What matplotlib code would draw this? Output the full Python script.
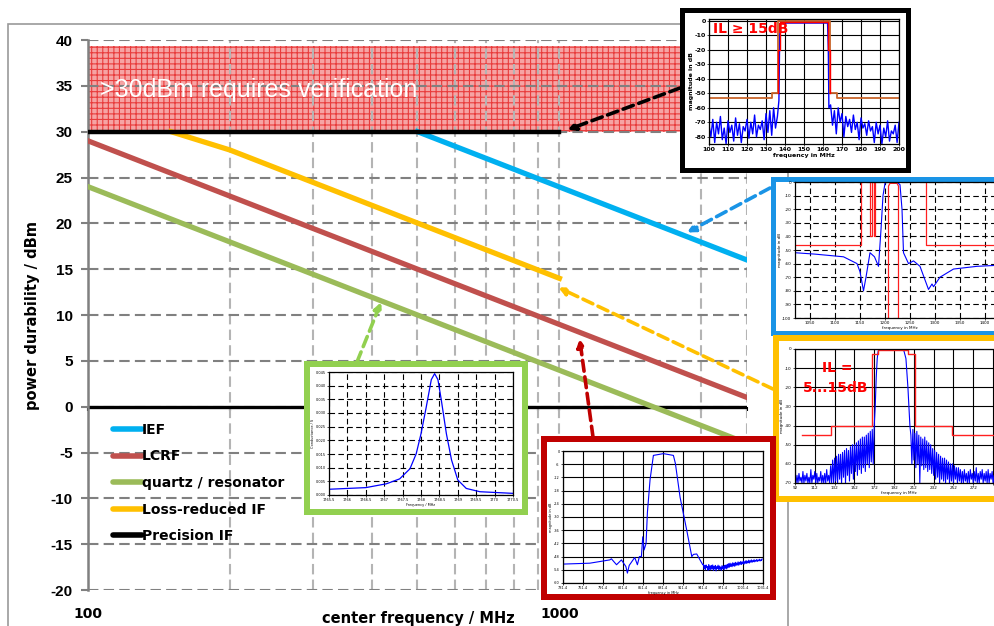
import numpy as np
import matplotlib
matplotlib.use("Agg")
import matplotlib.pyplot as plt
from matplotlib.lines import Line2D
from matplotlib.patches import Rectangle
from matplotlib.ticker import FixedLocator, NullFormatter

plt.rcParams["font.family"] = "DejaVu Sans"
plt.rcParams["hatch.linewidth"] = 0.8
plt.rcParams["axes.unicode_minus"] = False

W, H = 994, 626

# ---- main chart: power durability vs center frequency ----
ief_f = [500, 2500]
ief_db = [30, 16]
lcrf_f = [100, 2500]
lcrf_db = [29, 1]
quartz_f = [100, 2500]
quartz_db = [24, -4]
lrif_f = [150, 200, 1000]
lrif_db = [30, 28, 14]
pif_f = [100, 1000]
pif_db = [30, 30]

legend_labels = ["IEF", "LCRF", "quartz / resonator", "Loss-reduced IF", "Precision IF"]
legend_colors = ["#00B0F0", "#C0504D", "#9BBB59", "#FFC000", "#000000"]

y_ticks = list(range(-20, 41, 5))
x_major = [100, 1000]
x_minor = [200, 300, 400, 500, 600, 700, 800, 900, 2000, 2500]

# ---- inset 1: precision IF, 100..200 MHz ----
bk_lo = [-72, -80, -68, -84, -70, -78, -66, -82, -74, -85, -69, -77, -72, -83, -67, -79, -71, -84, -73, -76,
         -68, -81, -70, -78, -65, -80, -72, -75, -69, -82, -64, -77, -62, -79, -60, -74, -66]
bk_pass_f = [136.8, 137.2, 137.6, 162.4, 162.8, 163.1]
bk_pass_db = [-55, -10, -1.5, -1.5, -20, -60]
bk_hi = [-58, -72, -62, -78, -60, -70, -64, -80, -66, -73, -68, -77, -65, -75, -70, -82, -67, -74, -71, -79,
         -69, -76, -73, -84, -70, -78, -72, -85, -74, -80, -69, -83, -76, -78, -72, -84, -70]
bk_mask_f = [100, 132.9, 132.9, 136.4, 136.4, 163.7, 163.7, 167.4, 167.4, 200]
bk_mask_db = [-53, -53, -50, -50, 0, 0, -50, -50, -53, -53]
bk_red_f = [136.4, 136.4, 137.2, 137.2, 162.6, 162.6, 163.6, 163.6]
bk_red_db = [-50, -20, -20, -1, -1, -20, -20, -50]

# ---- inset 2: IEF, 1021..1441 MHz ----
bl_f = [1021, 1060, 1118, 1145, 1151, 1158, 1163, 1171, 1180, 1188, 1193, 1197, 1201, 1205, 1225, 1231,
        1235, 1238, 1248, 1258, 1271, 1288, 1295, 1298, 1311, 1338, 1385, 1441]
bl_db = [-52, -53, -55, -60, -66, -80, -70, -52, -55, -62, -35, -10, -1, 0, 0, -2,
         -20, -52, -60, -58, -62, -79, -75, -77, -70, -64, -62, -61]
bl_mask = [
    ([1021, 1153, 1153], [-46, -46, 0]),
    ([1171, 1171, 1175, 1175, 1178, 1178, 1181, 1181], [0, -40, -40, 0, 0, -40, -40, 0]),
    ([1208, 1208, 1211, 1225, 1228, 1228], [-100, -3, -1, -1, -3, -100]),
    ([1283, 1283, 1441], [0, -46, -46]),
]

# ---- inset 3: loss-reduced IF, 92..302 MHz ----
ye_lo = [-70, -66, -70, -65, -69, -67, -70, -64, -70, -66, -69, -65, -70, -67, -70, -63, -70, -66, -68, -64,
         -70, -65, -70, -67, -69, -64, -70, -66, -70, -65, -70, -63, -69, -66, -70,
         -61, -70, -58, -70, -57, -69, -56, -70, -55, -68, -55, -70, -54, -67, -53, -70, -52, -66, -53, -69,
         -51, -65, -50, -68, -50, -64, -49, -66, -48, -63, -47, -65, -46, -62, -46, -64, -45, -60, -44, -62,
         -43, -59, -42, -60, -40]
ye_pass_f = [173, 174, 175, 176, 178, 200, 202, 204, 206, 208]
ye_pass_db = [-30, -15, -5, -1, -0.3, -0.3, -1, -5, -20, -40]
ye_hi = [-45, -60, -42, -58, -44, -62, -43, -60, -45, -70, -46, -61, -47, -63, -46, -62, -48, -64, -49, -63,
         -50, -65, -52, -66, -53, -68, -54, -67, -55, -70, -56, -68, -57, -69, -57, -70, -58, -68, -59, -70,
         -60, -69, -60, -70, -61, -68, -62, -70, -62, -69, -63, -70, -64, -70, -63, -69, -65, -70, -64, -70,
         -63, -68, -65, -70, -64, -69, -62, -70, -65, -70, -64, -68, -63, -70, -65, -69, -64, -70, -63, -70,
         -65, -68, -64, -70, -66, -70, -65]
ye_mask_f = [99, 128.6, 128.6, 170, 170, 175.7, 175.7, 205.6, 205.6, 213, 213, 250.3, 250.3, 292]
ye_mask_db = [-45, -45, -40, -40, -2.8, -2.8, -0.5, -0.5, -2.8, -2.8, -40, -40, -45, -45]

# ---- inset 4: quartz resonator conductance ----
gr_f = [1765.5, 1766.5, 1767.06, 1767.42, 1767.7, 1767.87, 1768.0, 1768.14, 1768.28, 1768.37, 1768.46,
        1768.55, 1768.69, 1768.83, 1769.0, 1769.23, 1769.6, 1770.5]
gr_g = [0.0021, 0.0027, 0.0041, 0.0059, 0.0096, 0.0151, 0.0224, 0.032, 0.0422, 0.0444, 0.0422,
        0.0349, 0.0224, 0.0128, 0.0055, 0.0024, 0.0012, 0.0006]

# ---- inset 5: LCRF, 731.4..1031.4 MHz ----
rd_f = [731.4, 771.5, 801.6, 804, 811.7, 819, 825.7, 828, 830.7, 839, 843, 846, 849, 851, 853, 856, 858,
        862, 867, 882, 897, 900, 907, 917, 924.6, 927, 932, 936, 941]
rd_db = [-51.4, -51, -49.5, -49, -51.7, -49.5, -52.5, -55.5, -52, -48.4, -51.7, -48, -48, -39, -45, -42, -28,
         -13, -2, -1.2, -2, -5.7, -21, -36, -48, -47, -46.8, -49, -51.7]
rd_tail = [-51.5, -53.5, -52, -54, -51.8, -53, -52.5, -54.2, -51.6, -53.8, -52.2, -54, -52, -53.5, -51.8,
           -54.3, -52.4, -53.6, -52, -54.5, -52.6, -53.4, -51.9, -54, -52.3, -53.8, -52.7, -54.2, -52.1, -53.5,
           -52.4, -54, -52, -53.3, -51.8, -53.6,
           -51.5, -53, -51.2, -52.8, -51, -52.5, -51.3, -52.6, -50.8, -52.2, -51, -52.4, -50.6, -52, -50.9,
           -51.8, -50.4, -51.9, -50.6, -51.5, -50.2, -51.6, -50.5, -51.2, -50, -51.4, -50.3, -51, -49.8, -51.1,
           -50.1, -50.8, -49.6, -50.9, -49.9, -50.5, -49.5, -50.6, -49.8, -50.3, -49.4, -50.4, -49.7, -50.1,
           -49.3, -50.2, -49.6, -49.9, -49.2, -50, -49.5, -49.8, -49.1]


def box(x0, y0, x1, y1):
    # image pixels (origin top-left) -> figure fraction rect
    return [x0 / W, 1 - y1 / H, (x1 - x0) / W, (y1 - y0) / H]


fig = plt.figure(figsize=(W / 100, H / 100), dpi=100)

# grey chart-area border
fig.add_artist(Rectangle((8 / W, -0.1), 780 / W, 1.1 - 24 / H, transform=fig.transFigure,
                         fill=False, edgecolor="#9a9a9a", lw=1.2, zorder=-1))

ax = fig.add_axes(box(88, 40, 747, 590))
ax.set_zorder(0)
ax.set_facecolor("none")
ax.set_xscale("log")
ax.set_xlim(100, 2500)
ax.set_ylim(-20, 40)
ax.set_yticks(y_ticks)
ax.xaxis.set_major_locator(FixedLocator(x_major))
ax.xaxis.set_minor_locator(FixedLocator(x_minor))
ax.xaxis.set_minor_formatter(NullFormatter())
ax.set_xticklabels([str(v) for v in x_major])
ax.tick_params(axis="x", which="both", length=0, pad=12, labelsize=10)
ax.tick_params(axis="y", length=5, width=1.5, color="#808080", pad=6, labelsize=11)
for lab in ax.get_yticklabels():
    lab.set_fontfamily("Liberation Sans")
    lab.set_fontweight("bold")
for lab in ax.get_xticklabels():
    lab.set_fontweight("bold")
ax.grid(True, axis="y", color="#808080", lw=1.5, ls=(0, (5, 2.5)))
ax.grid(True, axis="x", which="both", color="#b4b4b4", lw=1.5, ls=(0, (5, 2.5)))
for side in ["top", "right", "bottom"]:
    ax.spines[side].set_visible(False)
ax.spines["left"].set_color("#808080")
ax.spines["left"].set_linewidth(1.8)

ax.axhspan(30, 39.3, facecolor="#f6a4a4", edgecolor="#e83c3c", hatch="+++", lw=0, zorder=1)
ax.text(106, 34.6, ">30dBm requires verification", color="white", fontsize=18,
        fontfamily="Liberation Sans", va="center", ha="left", zorder=3)

# horizontal axis line at 0 dBm with its small tick marks
ax.axhline(0, color="black", lw=2.4, zorder=2.5)
zero = ax.secondary_xaxis(1 / 3)
zero.spines["bottom"].set_visible(False)
zero.xaxis.set_major_locator(FixedLocator(x_major + x_minor))
zero.xaxis.set_minor_locator(FixedLocator([]))
zero.tick_params(axis="x", which="both", length=3, width=1.5, labelbottom=False, color="black")

ax.plot(ief_f, ief_db, color=legend_colors[0], lw=3.8, zorder=4)
ax.plot(lcrf_f, lcrf_db, color=legend_colors[1], lw=3.8, zorder=4)
ax.plot(quartz_f, quartz_db, color=legend_colors[2], lw=3.8, zorder=4)
ax.plot(lrif_f, lrif_db, color=legend_colors[3], lw=3.8, zorder=4)
ax.plot(pif_f, pif_db, color=legend_colors[4], lw=3.2, zorder=5)

handles = [Line2D([], [], color=c, lw=4, solid_capstyle="round") for c in legend_colors]
leg = ax.legend(handles, legend_labels, loc="upper left", bbox_to_anchor=(113 / W, 1 - 423 / H),
                bbox_transform=fig.transFigure, frameon=False, handlelength=2.1, handletextpad=0.0,
                labelspacing=0.9, borderpad=0, borderaxespad=0,
                prop={"weight": "bold", "size": 10})

fig.text(33 / W, 1 - 315 / H, "power durability / dBm", rotation=90, ha="center", va="center",
         fontsize=10.5, fontweight="bold")
fig.text(418 / W, 1 - 611 / H, "center frequency / MHz", ha="center", va="top",
         fontsize=10.5, fontweight="bold")


# ---- insets ----
def frame(x0, y0, x1, y1, t, color):
    fig.add_artist(Rectangle(((x0 + t / 2) / W, 1 - (y1 - t / 2) / H), (x1 - x0 - t) / W, (y1 - y0 - t) / H,
                             transform=fig.transFigure, facecolor="white", edgecolor=color,
                             lw=t * 0.72, zorder=1.5))


def inset(px, xlim, ylim, xt, yt, fs, grid_ls, xl, yl, xlabels=None, bold=False):
    a = fig.add_axes(box(*px))
    a.set_zorder(2)
    a.set_xlim(xlim)
    a.set_ylim(ylim)
    a.set_xticks(xt, labels=xlabels)
    a.set_yticks(yt)
    a.tick_params(labelsize=fs, length=1.5, width=0.5, pad=1)
    a.grid(True, color="black", ls=grid_ls, lw=0.8)
    for s in a.spines.values():
        s.set_linewidth(0.9)
    w = "bold" if bold else "normal"
    a.set_xlabel(xl, fontsize=fs, labelpad=0.5, fontweight=w)
    a.set_ylabel(yl, fontsize=fs, labelpad=0.5, fontweight=w)
    if bold:
        for lab in a.get_xticklabels() + a.get_yticklabels():
            lab.set_fontweight("bold")
    return a


# black: precision IF
frame(679, 7, 910, 172, 5, "black")
a1 = inset((709, 19, 899, 144), (100, 200), (-85, 1.3), list(range(100, 201, 10)), list(range(-80, 1, 10)),
           4.5, "-", "frequency in MHz", "magnitude in dB", bold=True)
bk_f = np.concatenate([100 + np.arange(len(bk_lo)), bk_pass_f, 164 + np.arange(len(bk_hi))])
bk_db = np.concatenate([bk_lo, bk_pass_db, bk_hi])
a1.plot(bk_f, bk_db, color="#0000ff", lw=1.0)
a1.plot(bk_mask_f, bk_mask_db, color="#c8642a", lw=1.3)
a1.plot(bk_red_f, bk_red_db, color="#ff0000", lw=1.0)
a1.text(0.02, 0.92, "IL ≥ 15dB", transform=a1.transAxes, color="#ff0000", fontsize=10,
        fontweight="bold", va="center", ha="left")

# blue: IEF
frame(770, 176, 1004, 335, 5, "#1a94e6")
a2 = inset((795, 182, 1005, 318), (1021, 1441), (-100, 0), list(range(1050, 1401, 50)),
           list(range(-100, 1, 10)), 3, (0, (5, 3)), "frequency in MHz", "magnitude in dB")
for mf, md in bl_mask:
    a2.plot(mf, md, color="#ff2020", lw=0.9)
a2.plot(bl_f, bl_db, color="#0000ff", lw=0.8)

# yellow: loss-reduced IF
frame(773, 335, 1004, 502, 6, "#FFC000")
yx = list(range(92, 302, 20))
a3 = inset((795, 349, 1003, 483), (92, 302), (-70, 0), yx, list(range(-70, 1, 10)),
           3, "-", "frequency in MHz", "magnitude in dB",
           xlabels=[str(v) if v < 290 else "" for v in yx])
ye_f = np.concatenate([93 + np.arange(len(ye_lo)), ye_pass_f, 209 + np.arange(len(ye_hi))])
ye_db = np.concatenate([ye_lo, ye_pass_db, ye_hi])
a3.plot(ye_f, ye_db, color="#0000ff", lw=0.8)
a3.plot(ye_mask_f, ye_mask_db, color="#ff2020", lw=1.0)
a3.text(0.13, 0.86, "IL =", transform=a3.transAxes, color="#ff0000", fontsize=10, fontweight="bold",
        va="center", ha="left")
a3.text(0.04, 0.71, "5...15dB", transform=a3.transAxes, color="#ff0000", fontsize=10, fontweight="bold",
        va="center", ha="left")

# green: quartz / resonator
frame(304, 361, 528, 515, 6, "#92D050")
gx = [1765.5 + 0.5 * i for i in range(11)]
a4 = inset((329, 372, 513, 495), (1765.5, 1770.5), (0, 0.045), gx, [0.005 * i for i in range(10)],
           2.5, (0, (5, 3)), "Frequency / MHz", "Conductance / S", xlabels=[f"{v:g}" for v in gx])
a4.plot(gr_f, gr_g, color="#0000ff", lw=0.9)

# red: LCRF
frame(541, 436, 776, 600, 6, "#C00000")
rx = [731.4 + 30 * i for i in range(11)]
a5 = inset((563, 451, 763, 583), (731.4, 1031.4), (-60, 0), rx, list(range(-60, 1, 6)),
           2.5, "-", "frequency in MHz", "magnitude in dB", xlabels=[f"{v:.1f}" for v in rx])
rd_all_f = np.concatenate([rd_f, 942 + np.arange(len(rd_tail))])
rd_all_db = np.concatenate([rd_db, rd_tail])
a5.plot(rd_all_f, rd_all_db, color="#0000ff", lw=0.8)

# dashed arrows from the insets to their curves
arrows = [
    ((1040, 30.2), (680, 88), "black"),
    ((1865, 19.0), (770, 188), "#1a94e6"),
    ((995, 13.0), (773, 389), "#FFC000"),
    ((418.6, 11.4), (357, 362), "#92D050"),
    ((1104, 7.4), (593, 437), "#C00000"),
]
for tip, tail, col in arrows:
    ax.annotate("", xy=tip, xycoords="data", xytext=(tail[0], H - tail[1]), textcoords="figure pixels",
                arrowprops=dict(arrowstyle="-|>", color=col, lw=2.6, ls=(0, (3, 1.6)),
                                mutation_scale=11, shrinkA=0, shrinkB=0), zorder=6)

fig.savefig("out.png", dpi=100)
